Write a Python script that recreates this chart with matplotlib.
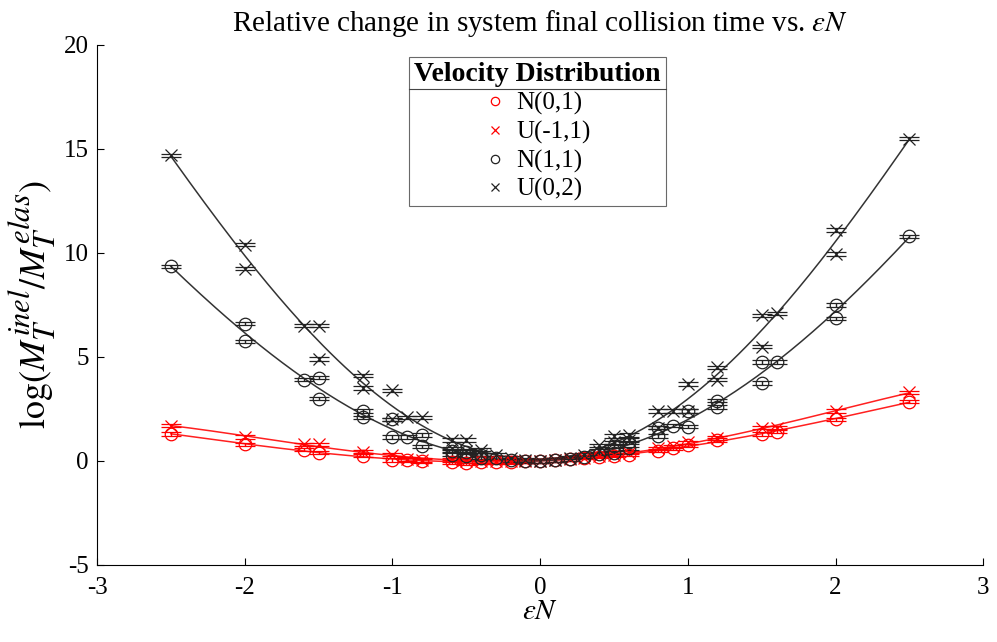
import numpy as np
import matplotlib
matplotlib.use("Agg")
import matplotlib.pyplot as plt
from matplotlib.lines import Line2D
try:
    import matplotlib._mathtext as _mt
    _mt.SHRINK_FACTOR = 0.85
except Exception:
    pass

plt.rcParams['font.family'] = ['Liberation Serif', 'DejaVu Serif']
plt.rcParams['mathtext.fontset'] = 'stix'

# ---- data ----
N01_x = [-2.5, -2, -1.6, -1.5, -1.2, -1, -0.9, -0.8, -0.6, -0.5, -0.4, -0.3, -0.2, -0.1, 0,
         0.1, 0.2, 0.3, 0.4, 0.5, 0.6, 0.8, 0.9, 1, 1.2, 1.5, 1.6, 2, 2.5]
N01_y = [1.3, 0.8, 0.55, 0.4, 0.25, 0.05, 0.05, 0.0, -0.05, -0.1, -0.05, -0.05, -0.05, 0.0, 0.0,
         0.05, 0.1, 0.15, 0.2, 0.25, 0.3, 0.5, 0.6, 0.75, 1.0, 1.3, 1.4, 2.0, 2.85]

U11_x = N01_x
U11_y = [1.7, 1.15, 0.8, 0.8, 0.45, 0.3, 0.1, 0.05, 0.05, 0.0, 0.0, 0.0, 0.0, 0.0, 0.0,
         0.05, 0.1, 0.15, 0.25, 0.3, 0.4, 0.6, 0.7, 0.9, 1.1, 1.6, 1.6, 2.4, 3.3]

N11_x = [-2.5, -2, -2, -1.6, -1.5, -1.5, -1.2, -1.2, -1, -1, -0.9, -0.8, -0.8, -0.6, -0.6,
         -0.5, -0.5, -0.4, -0.4, -0.3, -0.2, -0.1, 0, 0.1, 0.2, 0.3, 0.4, 0.5, 0.5, 0.6, 0.6,
         0.8, 0.8, 0.9, 1, 1, 1.2, 1.2, 1.5, 1.5, 1.6, 2, 2, 2.5]
N11_y = [9.35, 6.6, 5.75, 3.9, 4.0, 3.0, 2.4, 2.1, 2.0, 1.15, 1.15, 1.25, 0.7, 0.5, 0.3,
         0.45, 0.25, 0.3, 0.15, 0.15, 0.05, 0.0, 0.0, 0.05, 0.1, 0.2, 0.35, 0.7, 0.4, 0.9, 0.6,
         1.6, 1.2, 1.7, 2.4, 1.65, 2.9, 2.6, 4.75, 3.75, 4.75, 7.5, 6.85, 10.8]

U02_x = [-2.5, -2, -2, -1.6, -1.5, -1.5, -1.2, -1.2, -1, -1, -0.9, -0.8, -0.6, -0.6,
         -0.5, -0.5, -0.4, -0.4, -0.3, -0.2, -0.1, 0, 0.1, 0.2, 0.3, 0.4, 0.4, 0.5, 0.5, 0.6, 0.6,
         0.8, 0.8, 0.9, 1, 1, 1.2, 1.2, 1.5, 1.5, 1.6, 2, 2, 2.5]
U02_y = [14.7, 10.4, 9.25, 6.5, 6.5, 4.9, 4.1, 3.5, 3.4, 2.0, 2.1, 2.1, 1.0, 0.6,
         1.0, 0.5, 0.55, 0.3, 0.3, 0.15, 0.05, 0.0, 0.05, 0.15, 0.3, 0.75, 0.5, 1.2, 0.9, 1.25, 1.0,
         2.4, 1.6, 2.4, 3.7, 2.4, 4.5, 3.9, 7.0, 5.5, 7.1, 11.1, 9.95, 15.5]

labels = ['N(0,1)', 'U(-1,1)', 'N(1,1)', 'U(0,2)']
ERR = 0.08

series = [
    (N01_x, N01_y, 'o', '#ff0000', '#ff2020'),
    (U11_x, U11_y, 'x', '#ff0000', '#ff2020'),
    (N11_x, N11_y, 'o', '#222222', '#333333'),
    (U02_x, U02_y, 'x', '#222222', '#333333'),
]

fig = plt.figure(figsize=(9.97, 6.42), dpi=100)
ax = fig.add_axes([0.0973, 0.12, 0.889, 0.81])

handles = []
for (xs, ys, mk, col, lcol), lab in zip(series, labels):
    xs = np.array(xs, float)
    ys = np.array(ys, float)
    ax.errorbar(xs, ys, yerr=np.full_like(ys, ERR), fmt=mk, mfc='none', mec=col,
                ms=9, mew=0.9, ecolor=col, elinewidth=1.0, capsize=7, capthick=1.4,
                zorder=3)
    coef = np.polyfit(xs, ys, 4)
    xf = np.linspace(-2.5, 2.5, 200)
    ax.plot(xf, np.polyval(coef, xf), color=lcol, lw=1.1, zorder=2)
    handles.append(Line2D([], [], ls='none', marker=mk, mfc='none', mec=col,
                          ms=6, mew=0.9, label=lab))

ax.set_xlim(-3, 3)
ax.set_ylim(-5, 20)
ax.set_xticks([-3, -2, -1, 0, 1, 2, 3])
ax.set_yticks([-5, 0, 5, 10, 15, 20])
ax.set_xticklabels(['-3', '-2', '-1', '0', '1', '2', '3'])
ax.set_yticklabels(['-5', '0', '5', '10', '15', '20'])
ax.tick_params(direction='in', length=5, labelsize=18, width=0.8)
ax.tick_params(axis='x', pad=9)
ax.tick_params(axis='y', pad=6)
for s in ['top', 'right']:
    ax.spines[s].set_visible(False)
for s in ['left', 'bottom']:
    ax.spines[s].set_linewidth(0.8)

ax.set_title(r'Relative change in system final collision time vs. $\epsilon N$',
             fontsize=21, pad=10)
ax.set_xlabel(r'$\epsilon N$', fontsize=21, labelpad=0)
ax.set_ylabel(r'$\log(M_T^{inel}/M_T^{elas})$', fontsize=26, labelpad=4)

leg = ax.legend(handles=handles, loc='upper center', bbox_to_anchor=(0.497, 0.977),
                borderaxespad=0.0,
                title='Velocity Distribution', fontsize=18, frameon=True,
                fancybox=False, edgecolor='#444444', handlelength=0.9,
                handletextpad=0.4, labelspacing=0.22, borderpad=0.2,
                alignment='center',
                title_fontproperties={'weight': 'bold', 'size': 20,
                                      'family': 'Liberation Serif'})
leg.get_frame().set_linewidth(0.8)

fig.canvas.draw()
tb = leg.get_title().get_window_extent()
lb = leg.get_window_extent()
inv = fig.transFigure.inverted()
(x0, y0) = inv.transform((lb.x0, tb.y0 - 2))
(x1, _) = inv.transform((lb.x1, tb.y0 - 2))
fig.add_artist(Line2D([x0, x1], [y0, y0], transform=fig.transFigure,
                      color='#444444', lw=0.8))

fig.savefig('out.png', dpi=100)
